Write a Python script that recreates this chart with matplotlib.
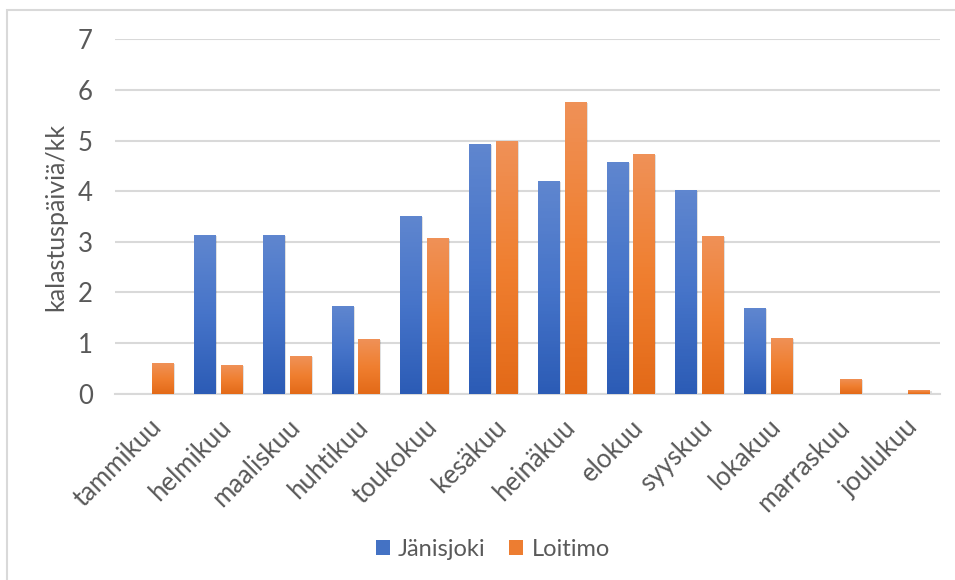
import numpy as np
import matplotlib.pyplot as plt
from matplotlib.colors import LinearSegmentedColormap
from matplotlib.patches import Rectangle

# Data
months = ['tammikuu', 'helmikuu', 'maaliskuu', 'huhtikuu', 'toukokuu', 'kesäkuu',
          'heinäkuu', 'elokuu', 'syyskuu', 'lokakuu', 'marraskuu', 'joulukuu']
janisjoki = [0, 3.13, 3.13, 1.74, 3.51, 4.93, 4.20, 4.58, 4.02, 1.69, 0, 0]
loitimo = [0.60, 0.57, 0.75, 1.08, 3.08, 5.00, 5.77, 4.73, 3.11, 1.11, 0.30, 0.07]

plt.rcParams['font.family'] = ['Lato', 'DejaVu Sans']
TEXT = '#595959'

fig = plt.figure(figsize=(9.55, 5.8), dpi=100)
ax = fig.add_axes([0.1204, 0.3212, 0.864, 0.611])

# outer chart frame
fig.patches.append(Rectangle((7 / 955, -0.02), 1.0, (570 / 580) + 0.02,
                             transform=fig.transFigure, fill=False,
                             edgecolor='#d9d9d9', linewidth=1.5))

x = np.arange(len(months))
w = 0.31
off = 0.195

blue_cm = LinearSegmentedColormap.from_list('b', ['#2c5cb6', '#4674c9', '#5f86cf'])
orange_cm = LinearSegmentedColormap.from_list('o', ['#e36a18', '#f07f30', '#ef9157'])
grad = np.linspace(0, 1, 64).reshape(-1, 1)


def gradient_bars(xs, vals, cmap, label, solid):
    bars = ax.bar(xs, vals, width=w, color=solid, label=label, zorder=3)
    for b in bars:
        h = b.get_height()
        if h <= 0:
            continue
        x0 = b.get_x()
        # soft shadow
        ax.add_patch(Rectangle((x0 + 0.025, 0), w, h - 0.02, facecolor='#000000',
                               alpha=0.12, zorder=2.5, linewidth=0))
        im = ax.imshow(grad, cmap=cmap, origin='lower', aspect='auto',
                       extent=[x0, x0 + w, 0, h], zorder=3.5)
        im.set_clip_path(b)
    return bars


gradient_bars(x - off, janisjoki, blue_cm, 'Jänisjoki', '#4472c4')
gradient_bars(x + off, loitimo, orange_cm, 'Loitimo', '#ed7d31')

ax.set_xlim(-0.5, len(months) - 0.5)
ax.set_ylim(0, 7)
ax.set_yticks(range(8))
ax.yaxis.grid(True, color='#d9d9d9', linewidth=1.5, zorder=0)
ax.set_axisbelow(True)
for s in ['top', 'right', 'left']:
    ax.spines[s].set_visible(False)
ax.spines['bottom'].set_color('#d9d9d9')
ax.spines['bottom'].set_linewidth(1.5)
ax.tick_params(axis='both', length=0, labelsize=18.5, labelcolor=TEXT)
ax.tick_params(axis='y', pad=16)
ax.tick_params(axis='x', pad=15)
ax.set_xticks(x)
ax.set_xticklabels(months, rotation=45, ha='right', rotation_mode='anchor')
ax.set_ylabel('kalastuspäiviä/kk', fontsize=18, color=TEXT)
ax.yaxis.set_label_coords(-0.058, 0.5)

ax.legend(loc='center', bbox_to_anchor=(0.516, 0.053), bbox_transform=fig.transFigure,
          ncol=2, frameon=False, fontsize=17, labelcolor=TEXT,
          handlelength=0.6, handleheight=0.6, handletextpad=0.35, columnspacing=1.0)

plt.savefig('out.png', dpi=100)
